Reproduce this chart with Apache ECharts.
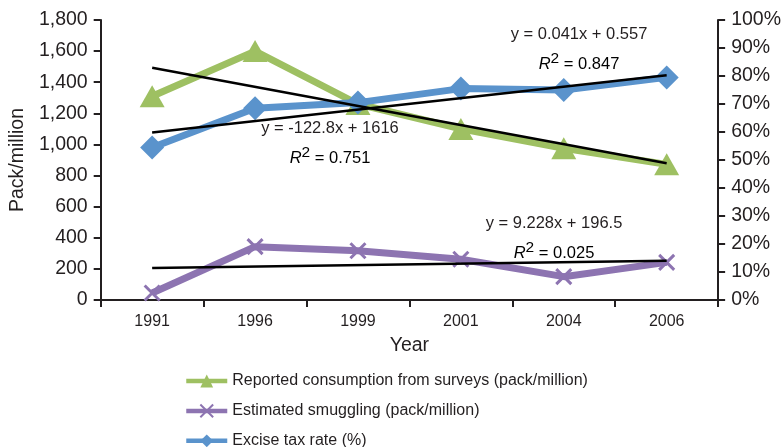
<!DOCTYPE html>
<html>
<head>
<meta charset="utf-8">
<script src="https://cdn.jsdelivr.net/npm/echarts@6/dist/echarts.min.js"></script>
<style>
  html, body { margin: 0; padding: 0; background: #fff; }
  #chart { width: 784px; height: 447px; }
</style>
</head>
<body>
<div id="chart"></div>
<script>
// Survey years on the category axis
const years = ['1991', '1996', '1999', '2001', '2004', '2006'];

// Reported consumption from surveys (pack/million)
const consumption = [1310, 1600, 1260, 1100, 975, 872];
// Estimated smuggling (pack/million)
const smuggling = [45, 343, 317, 262, 150, 242];
// Excise tax rate (%)
const exciseRate = [54.5, 68.5, 70.5, 75.5, 75, 79.5];

// Linear trend coefficients (x = 1..6 over the survey years)
const trendConsumption = { slope: -122.8, intercept: 1616, r2: '0.751' };
const trendSmuggling = { slope: 9.228, intercept: 196.5, r2: '0.025' };
const trendExcise = { slope: 0.041, intercept: 0.557, r2: '0.847' };

// Left axis ticks (pack/million) and right axis ticks (%)
const leftTicks = { min: 0, max: 1800, step: 200 };
const rightTicks = { min: 0, max: 100, step: 10 };

const TEXT = '#231f20';
const GREEN = '#9ec062';
const PURPLE = '#8d74b1';
const BLUE = '#5a93cc';
const FONT = '"Liberation Sans", Arial, sans-serif';

function trendEnds(t, scale) {
  const n = years.length;
  return [
    [0, (t.slope * 1 + t.intercept) * scale],
    [n - 1, (t.slope * n + t.intercept) * scale]
  ];
}

function eqText(t) {
  const sign = t.intercept < 0 ? '-' : '+';
  return 'y = ' + t.slope + 'x ' + sign + ' ' + Math.abs(t.intercept);
}

function annotation(t, cx, cy) {
  return [
    {
      type: 'text', x: cx, y: cy,
      style: {
        text: eqText(t), fill: TEXT, font: '16.5px ' + FONT,
        textAlign: 'center', textVerticalAlign: 'middle'
      }
    },
    {
      type: 'text', x: cx, y: cy + 28,
      style: {
        text: '{i|R}{s|2}{n| = ' + t.r2 + '}',
        textAlign: 'center', textVerticalAlign: 'middle',
        rich: {
          i: { fontStyle: 'italic', fontSize: 16.5, fontFamily: 'Liberation Sans', color: TEXT, lineHeight: 22, verticalAlign: 'bottom' },
          s: { fontSize: 15.5, fontFamily: 'Liberation Sans', color: TEXT, lineHeight: 22, verticalAlign: 'top' },
          n: { fontSize: 16.5, fontFamily: 'Liberation Sans', color: TEXT, lineHeight: 22, verticalAlign: 'bottom' }
        }
      }
    }
  ];
}

const chart = echarts.init(document.getElementById('chart'), null, { renderer: 'canvas' });

const axisLine = { show: true, lineStyle: { color: TEXT, width: 2 } };
const axisTick = { show: true, length: 7, lineStyle: { color: TEXT, width: 2 } };

const trendStyle = {
  type: 'line', symbol: 'none', silent: true, z: 5,
  lineStyle: { color: '#000', width: 2.5 }
};

chart.setOption({
  animation: false,
  textStyle: { fontFamily: FONT, color: TEXT },
  grid: { left: 100, right: 65, top: 20, bottom: 147 },
  legend: {
    orient: 'vertical', left: 184, top: 373, height: 90, padding: 0,
    itemWidth: 41, itemHeight: 16, itemGap: 13,
    lineStyle: { width: 4.5 },
    textStyle: { fontSize: 16, color: TEXT },
    data: [
      'Reported consumption from surveys (pack/million)',
      'Estimated smuggling (pack/million)',
      'Excise tax rate (%)'
    ]
  },
  xAxis: {
    type: 'category', data: years, boundaryGap: true,
    name: 'Year', nameLocation: 'middle', nameGap: 36,
    nameTextStyle: { fontSize: 19.5, color: TEXT },
    axisLine: axisLine, axisTick: axisTick,
    axisLabel: { fontSize: 16, color: TEXT, margin: 14 }
  },
  yAxis: [
    {
      type: 'value', min: leftTicks.min, max: leftTicks.max, interval: leftTicks.step,
      name: 'Pack/million', nameLocation: 'middle', nameGap: 71,
      nameTextStyle: { fontSize: 19.5, color: TEXT },
      axisLine: axisLine, axisTick: axisTick, splitLine: { show: false },
      axisLabel: {
        fontSize: 19.5, color: TEXT, margin: 13,
        formatter: v => v.toLocaleString('en-US')
      }
    },
    {
      type: 'value', min: rightTicks.min, max: rightTicks.max, interval: rightTicks.step,
      position: 'right',
      axisLine: axisLine, axisTick: axisTick, splitLine: { show: false },
      axisLabel: { fontSize: 19.5, color: TEXT, margin: 13, formatter: '{value}%' }
    }
  ],
  graphic: [].concat(
    annotation(trendConsumption, 330, 128),
    annotation(trendExcise, 579, 34),
    annotation(trendSmuggling, 554, 223)
  ),
  series: [
    {
      name: 'Reported consumption from surveys (pack/million)',
      type: 'line', data: consumption, yAxisIndex: 0,
      symbol: 'triangle', symbolSize: [25, 22],
      lineStyle: { color: GREEN, width: 7 }, itemStyle: { color: GREEN }, z: 2
    },
    {
      name: 'Estimated smuggling (pack/million)',
      type: 'line', data: smuggling, yAxisIndex: 0,
      symbol: 'path://M-1,-1 L1,1 M1,-1 L-1,1', symbolSize: 15,
      lineStyle: { color: PURPLE, width: 7 },
      itemStyle: { color: 'none', borderColor: PURPLE, borderWidth: 3 }, z: 2
    },
    {
      name: 'Excise tax rate (%)',
      type: 'line', data: exciseRate, yAxisIndex: 1,
      symbol: 'diamond', symbolSize: 24,
      lineStyle: { color: BLUE, width: 7 }, itemStyle: { color: BLUE }, z: 3
    },
    Object.assign({ data: trendEnds(trendConsumption, 1), yAxisIndex: 0 }, trendStyle),
    Object.assign({ data: trendEnds(trendSmuggling, 1), yAxisIndex: 0 }, trendStyle),
    Object.assign({ data: trendEnds(trendExcise, 100), yAxisIndex: 1 }, trendStyle)
  ]
});
</script>
</body>
</html>
